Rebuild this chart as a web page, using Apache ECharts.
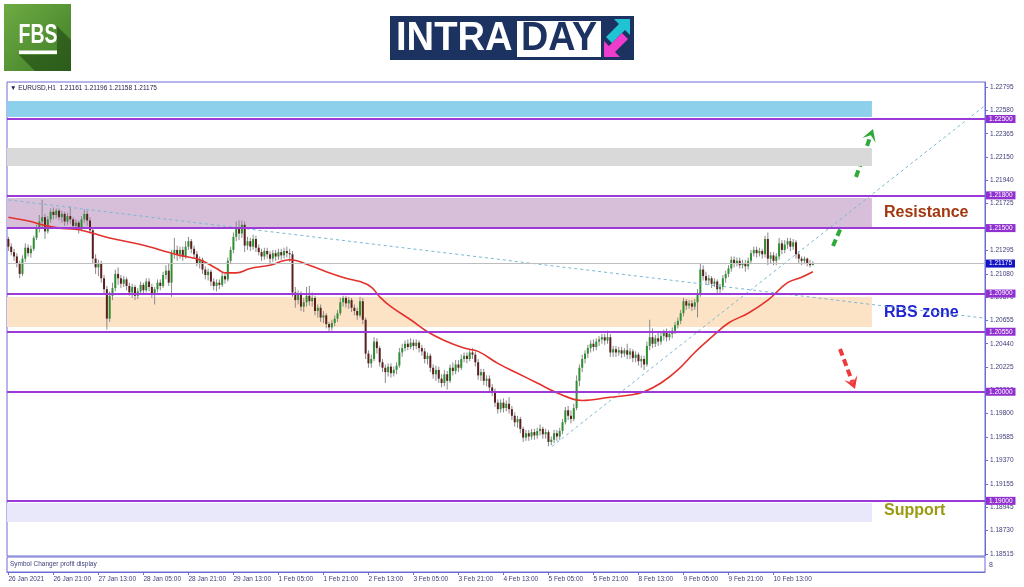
<!DOCTYPE html>
<html><head><meta charset="utf-8">
<script src="https://cdn.jsdelivr.net/npm/echarts@6/dist/echarts.min.js"></script>
<style>html,body{margin:0;padding:0;background:#fff}#c{width:1024px;height:587px}</style>
</head><body><div id="c"></div>
<script>
// ---------- data ----------
const tickLabels = ['26 Jan 2021','26 Jan 21:00','27 Jan 13:00','28 Jan 05:00','28 Jan 21:00','29 Jan 13:00','1 Feb 05:00','1 Feb 21:00','2 Feb 13:00','3 Feb 05:00','3 Feb 21:00','4 Feb 13:00','5 Feb 05:00','5 Feb 21:00','8 Feb 13:00','9 Feb 05:00','9 Feb 21:00','10 Feb 13:00'];
const tickIndex = [0,16,32,48,64,80,96,112,128,144,160,176,192,208,224,240,256,272];
const priceTicks = [1.22795,1.22580,1.22365,1.22150,1.21940,1.21725,1.21510,1.21295,1.21080,1.20870,1.20655,1.20440,1.20225,1.20010,1.19800,1.19585,1.19370,1.19155,1.18945,1.18730,1.18515];
const levels = [1.22500,1.21800,1.21500,1.20900,1.20550,1.20000,1.19000];
const lastPrice = 1.21175;
const zones = [[1.22665,1.22518],[1.22234,1.22069],[1.21776,1.21501],[1.20868,1.20594],[1.18980,1.18806]];
const zoneEnd = 307;
const trendDown = [[0,1.21758],[347.2,1.20674]];
const trendUp = [[193.3,1.19500],[347.2,1.22624]];
// [open, close, low, high]
const ohlc = [
[1.2140,1.2133,1.2129,1.2142],[1.2133,1.2128,1.2125,1.2136],[1.2128,1.2124,1.2120,1.2131],[1.2124,1.2118,1.2114,1.2127],
[1.2118,1.2108,1.2104,1.2120],[1.2108,1.2122,1.2106,1.2125],[1.2122,1.2132,1.2119,1.2136],[1.2132,1.2127,1.2124,1.2135],
[1.2127,1.2131,1.2123,1.2134],[1.2131,1.2141,1.2129,1.2143],[1.2141,1.2150,1.2139,1.2153],[1.2150,1.2156,1.2146,1.2162],
[1.2156,1.2160,1.2150,1.2176],[1.2160,1.2147,1.2140,1.2163],[1.2147,1.2158,1.2145,1.2161],[1.2158,1.2165,1.2155,1.2168],
[1.2165,1.2162,1.2158,1.2169],[1.2162,1.2166,1.2159,1.2168],[1.2166,1.2160,1.2157,1.2168],[1.2160,1.2163,1.2155,1.2166],
[1.2163,1.2156,1.2152,1.2165],[1.2156,1.2161,1.2153,1.2164],[1.2161,1.2158,1.2154,1.2170],[1.2158,1.2152,1.2149,1.2160],
[1.2152,1.2155,1.2148,1.2158],[1.2155,1.2149,1.2145,1.2157],[1.2149,1.2158,1.2147,1.2161],[1.2158,1.2163,1.2155,1.2167],
[1.2163,1.2157,1.2152,1.2166],[1.2157,1.2148,1.2145,1.2160],[1.2148,1.2122,1.2118,1.2150],[1.2122,1.2114,1.2108,1.2126],
[1.2114,1.2118,1.2106,1.2121],[1.2118,1.2104,1.2100,1.2120],[1.2104,1.2094,1.2090,1.2107],[1.2094,1.2067,1.2057,1.2097],
[1.2067,1.2088,1.2064,1.2092],[1.2088,1.2095,1.2084,1.2100],[1.2095,1.2108,1.2092,1.2112],[1.2108,1.2104,1.2098,1.2114],
[1.2104,1.2099,1.2095,1.2107],[1.2099,1.2103,1.2096,1.2106],[1.2103,1.2097,1.2093,1.2105],[1.2097,1.2091,1.2088,1.2100],
[1.2091,1.2096,1.2086,1.2099],[1.2096,1.2088,1.2084,1.2098],[1.2088,1.2092,1.2085,1.2095],[1.2092,1.2098,1.2089,1.2101],
[1.2098,1.2093,1.2089,1.2100],[1.2093,1.2101,1.2091,1.2104],[1.2101,1.2096,1.2092,1.2104],[1.2096,1.2090,1.2086,1.2099],
[1.2090,1.2094,1.2080,1.2096],[1.2094,1.2100,1.2091,1.2103],[1.2100,1.2097,1.2093,1.2103],[1.2097,1.2107,1.2095,1.2110],
[1.2107,1.2111,1.2103,1.2116],[1.2111,1.2100,1.2097,1.2118],[1.2100,1.2127,1.2087,1.2130],[1.2127,1.2130,1.2122,1.2141],
[1.2130,1.2126,1.2120,1.2134],[1.2126,1.2130,1.2122,1.2133],[1.2130,1.2124,1.2120,1.2133],[1.2124,1.2133,1.2122,1.2138],
[1.2133,1.2138,1.2130,1.2142],[1.2138,1.2131,1.2127,1.2140],[1.2131,1.2126,1.2122,1.2134],[1.2126,1.2118,1.2115,1.2129],
[1.2118,1.2121,1.2113,1.2124],[1.2121,1.2112,1.2108,1.2123],[1.2112,1.2107,1.2103,1.2115],[1.2107,1.2110,1.2102,1.2113],
[1.2110,1.2101,1.2097,1.2112],[1.2101,1.2097,1.2093,1.2104],[1.2097,1.2100,1.2092,1.2103],[1.2100,1.2098,1.2094,1.2103],
[1.2098,1.2106,1.2096,1.2109],[1.2106,1.2103,1.2099,1.2108],[1.2103,1.2120,1.2101,1.2123],[1.2120,1.2130,1.2117,1.2133],
[1.2130,1.2142,1.2127,1.2146],[1.2142,1.2150,1.2138,1.2156],[1.2150,1.2145,1.2139,1.2157],[1.2145,1.2153,1.2141,1.2157],
[1.2153,1.2134,1.2128,1.2156],[1.2134,1.2138,1.2130,1.2142],[1.2138,1.2133,1.2129,1.2141],[1.2133,1.2140,1.2130,1.2144],
[1.2140,1.2132,1.2128,1.2143],[1.2132,1.2128,1.2125,1.2135],[1.2128,1.2124,1.2120,1.2131],[1.2124,1.2129,1.2121,1.2132],
[1.2129,1.2126,1.2122,1.2132],[1.2126,1.2122,1.2118,1.2129],[1.2122,1.2127,1.2119,1.2130],[1.2127,1.2124,1.2120,1.2130],
[1.2124,1.2128,1.2121,1.2131],[1.2128,1.2125,1.2121,1.2131],[1.2125,1.2129,1.2122,1.2132],[1.2129,1.2127,1.2123,1.2133],
[1.2127,1.2126,1.2119,1.2131],[1.2126,1.2091,1.2087,1.2129],[1.2091,1.2084,1.2077,1.2096],[1.2084,1.2090,1.2080,1.2093],
[1.2090,1.2078,1.2074,1.2092],[1.2078,1.2082,1.2073,1.2086],[1.2082,1.2088,1.2078,1.2096],[1.2088,1.2083,1.2079,1.2097],
[1.2083,1.2086,1.2078,1.2091],[1.2086,1.2074,1.2070,1.2088],[1.2074,1.2077,1.2068,1.2080],[1.2077,1.2068,1.2064,1.2080],
[1.2068,1.2070,1.2063,1.2074],[1.2070,1.2062,1.2058,1.2072],[1.2062,1.2059,1.2055,1.2064],[1.2059,1.2063,1.2056,1.2066],
[1.2063,1.2067,1.2060,1.2070],[1.2067,1.2072,1.2064,1.2075],[1.2072,1.2082,1.2070,1.2086],[1.2082,1.2086,1.2078,1.2088],
[1.2086,1.2081,1.2077,1.2088],[1.2081,1.2084,1.2076,1.2087],[1.2084,1.2077,1.2073,1.2086],[1.2077,1.2074,1.2070,1.2080],
[1.2074,1.2070,1.2066,1.2077],[1.2070,1.2083,1.2068,1.2087],[1.2083,1.2066,1.2062,1.2086],[1.2066,1.2035,1.2030,1.2068],
[1.2035,1.2026,1.2022,1.2038],[1.2026,1.2030,1.2022,1.2034],[1.2030,1.2046,1.2028,1.2050],[1.2046,1.2040,1.2035,1.2049],
[1.2040,1.2027,1.2023,1.2042],[1.2027,1.2022,1.2018,1.2030],[1.2022,1.2018,1.2008,1.2025],[1.2018,1.2023,1.2014,1.2026],
[1.2023,1.2017,1.2013,1.2026],[1.2017,1.2020,1.2014,1.2023],[1.2020,1.2024,1.2016,1.2027],[1.2024,1.2036,1.2022,1.2040],
[1.2036,1.2040,1.2032,1.2044],[1.2040,1.2044,1.2037,1.2047],[1.2044,1.2041,1.2038,1.2048],[1.2041,1.2045,1.2039,1.2049],
[1.2045,1.2042,1.2038,1.2048],[1.2042,1.2045,1.2039,1.2048],[1.2045,1.2040,1.2036,1.2047],[1.2040,1.2037,1.2033,1.2043],
[1.2037,1.2030,1.2026,1.2040],[1.2030,1.2033,1.2025,1.2036],[1.2033,1.2022,1.2018,1.2035],[1.2022,1.2016,1.2012,1.2025],
[1.2016,1.2020,1.2010,1.2024],[1.2020,1.2012,1.2008,1.2023],[1.2012,1.2008,1.2004,1.2016],[1.2008,1.2016,1.2005,1.2020],
[1.2016,1.2010,1.2002,1.2019],[1.2010,1.2022,1.2008,1.2025],[1.2022,1.2019,1.2015,1.2027],[1.2019,1.2025,1.2016,1.2029],
[1.2025,1.2022,1.2018,1.2029],[1.2022,1.2030,1.2020,1.2034],[1.2030,1.2033,1.2027,1.2036],[1.2033,1.2030,1.2026,1.2036],
[1.2030,1.2036,1.2028,1.2039],[1.2036,1.2034,1.2030,1.2040],[1.2034,1.2027,1.2023,1.2037],[1.2027,1.2015,1.2011,1.2030],
[1.2015,1.2018,1.2010,1.2021],[1.2018,1.2010,1.2006,1.2021],[1.2010,1.2012,1.2005,1.2015],[1.2012,1.2004,1.2000,1.2015],
[1.2004,1.2000,1.1996,1.2007],[1.2000,1.1990,1.1986,1.2003],[1.1990,1.1984,1.1980,1.1993],[1.1984,1.1990,1.1981,1.1993],
[1.1990,1.1985,1.1981,1.1994],[1.1985,1.1989,1.1982,1.1992],[1.1989,1.1984,1.1980,1.1995],[1.1984,1.1978,1.1974,1.1987],
[1.1978,1.1972,1.1968,1.1981],[1.1972,1.1975,1.1967,1.1978],[1.1975,1.1966,1.1962,1.1977],[1.1966,1.1958,1.1954,1.1968],
[1.1958,1.1962,1.1955,1.1965],[1.1962,1.1959,1.1955,1.1965],[1.1959,1.1963,1.1956,1.1966],[1.1963,1.1960,1.1956,1.1966],
[1.1960,1.1964,1.1957,1.1967],[1.1964,1.1966,1.1960,1.1970],[1.1966,1.1961,1.1957,1.1968],[1.1961,1.1963,1.1957,1.1966],
[1.1963,1.1954,1.1950,1.1965],[1.1954,1.1956,1.1951,1.1959],[1.1956,1.1962,1.1953,1.1965],[1.1962,1.1959,1.1955,1.1965],
[1.1959,1.1964,1.1956,1.1967],[1.1964,1.1972,1.1961,1.1975],[1.1972,1.1983,1.1970,1.1986],[1.1983,1.1978,1.1974,1.1987],
[1.1978,1.1975,1.1971,1.1983],[1.1975,1.1985,1.1973,1.1989],[1.1985,1.2010,1.1983,1.2015],[1.2010,1.2022,1.2005,1.2025],
[1.2022,1.2030,1.2018,1.2034],[1.2030,1.2035,1.2026,1.2038],[1.2035,1.2040,1.2031,1.2043],[1.2040,1.2044,1.2036,1.2047],
[1.2044,1.2041,1.2037,1.2048],[1.2041,1.2046,1.2038,1.2049],[1.2046,1.2048,1.2042,1.2051],[1.2048,1.2050,1.2044,1.2053],
[1.2050,1.2047,1.2043,1.2053],[1.2047,1.2050,1.2044,1.2056],[1.2050,1.2036,1.2032,1.2053],[1.2036,1.2039,1.2032,1.2042],
[1.2039,1.2036,1.2032,1.2042],[1.2036,1.2038,1.2033,1.2041],[1.2038,1.2035,1.2031,1.2041],[1.2035,1.2038,1.2032,1.2040],
[1.2038,1.2034,1.2030,1.2044],[1.2034,1.2037,1.2030,1.2040],[1.2037,1.2031,1.2027,1.2039],[1.2031,1.2034,1.2027,1.2037],
[1.2034,1.2028,1.2024,1.2036],[1.2028,1.2030,1.2022,1.2033],[1.2030,1.2025,1.2020,1.2033],[1.2025,1.2042,1.2023,1.2046],
[1.2042,1.2050,1.2038,1.2066],[1.2050,1.2044,1.2040,1.2058],[1.2044,1.2049,1.2041,1.2052],[1.2049,1.2046,1.2042,1.2055],
[1.2046,1.2051,1.2043,1.2054],[1.2051,1.2054,1.2047,1.2057],[1.2054,1.2050,1.2046,1.2058],[1.2050,1.2053,1.2047,1.2056],
[1.2053,1.2056,1.2049,1.2059],[1.2056,1.2061,1.2053,1.2064],[1.2061,1.2065,1.2058,1.2068],[1.2065,1.2072,1.2062,1.2075],
[1.2072,1.2083,1.2069,1.2086],[1.2083,1.2079,1.2075,1.2085],[1.2079,1.2081,1.2076,1.2084],[1.2081,1.2078,1.2074,1.2084],
[1.2078,1.2082,1.2075,1.2085],[1.2082,1.2090,1.2068,1.2094],[1.2090,1.2112,1.2087,1.2118],[1.2112,1.2106,1.2102,1.2116],
[1.2106,1.2102,1.2098,1.2110],[1.2102,1.2104,1.2098,1.2107],[1.2104,1.2099,1.2095,1.2106],[1.2099,1.2101,1.2096,1.2104],
[1.2101,1.2094,1.2090,1.2103],[1.2094,1.2096,1.2090,1.2099],[1.2096,1.2104,1.2093,1.2107],[1.2104,1.2108,1.2100,1.2111],
[1.2108,1.2113,1.2105,1.2116],[1.2113,1.2121,1.2110,1.2124],[1.2121,1.2118,1.2114,1.2124],[1.2118,1.2120,1.2115,1.2123],
[1.2120,1.2116,1.2113,1.2123],[1.2116,1.2118,1.2113,1.2121],[1.2118,1.2115,1.2110,1.2121],[1.2115,1.2120,1.2112,1.2123],
[1.2120,1.2127,1.2117,1.2130],[1.2127,1.2130,1.2124,1.2133],[1.2130,1.2127,1.2123,1.2133],[1.2127,1.2129,1.2124,1.2132],
[1.2129,1.2126,1.2122,1.2131],[1.2126,1.2140,1.2123,1.2143],[1.2140,1.2122,1.2116,1.2146],[1.2122,1.2125,1.2118,1.2128],
[1.2125,1.2120,1.2116,1.2128],[1.2120,1.2124,1.2116,1.2127],[1.2124,1.2136,1.2121,1.2141],[1.2136,1.2130,1.2126,1.2139],
[1.2130,1.2135,1.2127,1.2139],[1.2135,1.2138,1.2131,1.2141],[1.2138,1.2133,1.2129,1.2141],[1.2133,1.2137,1.2130,1.2140],
[1.2137,1.2126,1.2122,1.2139],[1.2126,1.2122,1.2118,1.2129],[1.2122,1.2120,1.2116,1.2124],[1.2120,1.2122,1.2117,1.2124],
[1.2122,1.2118,1.2115,1.2123],[1.2118,1.2116,1.2114,1.2121],[1.21161,1.21175,1.21158,1.21196]
];
// moving average, [bar index, value]
const ma = [
[0,1.2160],[8,1.2156],[12,1.2153],[18,1.2150],[24,1.2149],[29,1.2146],[36,1.2141],[47,1.2135],[54,1.2130],
[61,1.2125],[68,1.2121],[74,1.2113],[77,1.2109],[81,1.2109],[86,1.2113],[93,1.2116],[100,1.2121],[107,1.2116],
[114,1.2109],[120,1.2104],[125,1.2101],[129,1.2096],[132,1.2087],[136,1.2078],[143,1.2066],[149,1.2055],[155,1.2047],
[162,1.2040],[167,1.2037],[174,1.2026],[181,1.2017],[188,1.2008],[195,1.1999],[201,1.1993],[204,1.1992],[214,1.1995],
[221,1.1997],[226,1.2000],[232,1.2008],[238,1.2020],[244,1.2036],[250,1.2050],[256,1.2063],[263,1.2072],[270,1.2084],
[277,1.2100],[282,1.2105],[286,1.2110]
];

// ---------- view config ----------
const X_MIN = -0.5, X_MAX = 347.2, Y_MIN = 1.184945, Y_MAX = 1.228391;
const FRAME = '#6c6cd4', LABEL = '#3d3d7a', LEVEL = '#9b3ad6', FONT = 'Liberation Sans';
const zoneColors = ['#8dd0ec','#d9d9d9','#d7bfd9','#fde3c6','#e8e8fa'];

const chart = echarts.init(document.getElementById('c'), null, {renderer:'canvas'});

function renderCandle(params, api){
  const x = api.value(0), o = api.value(1), c = api.value(2), l = api.value(3), h = api.value(4);
  const pO = api.coord([x,o]), pC = api.coord([x,c]), pL = api.coord([x,l]), pH = api.coord([x,h]);
  const w = 2;
  const top = Math.min(pO[1],pC[1]), bot = Math.max(pO[1],pC[1]);
  const up = c >= o;
  return {type:'group', children:[
    {type:'line', shape:{x1:pL[0],y1:pL[1],x2:pH[0],y2:pH[1]}, style:{stroke:'#8a8a8a', lineWidth:1}},
    {type:'rect', shape:{x:pO[0]-w/2, y:top, width:w, height:Math.max(bot-top,1)}, style:{fill: up ? '#2f8f33' : '#5b1f1f'}}
  ]};
}

function arrow(tail, tip, color){
  const dx = tip[0]-tail[0], dy = tip[1]-tail[1], len = Math.hypot(dx,dy);
  const ux = dx/len, uy = dy/len, nx = -uy, ny = ux;
  const L = 12, W = 7;
  const shaftEnd = [tip[0]-ux*L*0.6, tip[1]-uy*L*0.6];
  return [
    {type:'polyline', shape:{points:[tail, shaftEnd]}, style:{stroke:color, lineWidth:4, lineDash:[7,4], fill:null}},
    {type:'polygon', shape:{points:[tip,[tip[0]-ux*L+nx*W, tip[1]-uy*L+ny*W],[tip[0]-ux*L*0.55, tip[1]-uy*L*0.55],[tip[0]-ux*L-nx*W, tip[1]-uy*L-ny*W]]}, style:{fill:color}}
  ];
}

const levelLines = levels.map(v => ({
  yAxis: v,
  lineStyle:{color:LEVEL, width:2, type:'solid'},
  label:{show:true, position:'end', formatter: v.toFixed(5), color:'#fff', backgroundColor:'#9030d0', padding:[1,3,0,3], fontSize:6.5, fontFamily:FONT, distance:1}
}));
levelLines.push({
  yAxis: lastPrice,
  lineStyle:{color:'#bdbdbd', width:1, type:'solid'},
  label:{show:true, position:'end', formatter: lastPrice.toFixed(5), color:'#fff', backgroundColor:'#1414c4', padding:[1,3,0,3], fontSize:6.5, fontFamily:FONT, distance:1}
});

const option = {
  animation:false,
  backgroundColor:'#ffffff',
  grid:[
    {left:7, right:39, top:82, bottom:31, show:true, borderColor:FRAME, borderWidth:1, outerBoundsMode:'none', containLabel:false},
    {left:7, right:39, top:557, bottom:15, show:true, borderColor:FRAME, borderWidth:1, outerBoundsMode:'none', containLabel:false}
  ],
  xAxis:[
    {gridIndex:0, type:'value', min:X_MIN, max:X_MAX, show:false, splitLine:{show:false}, axisLine:{onZero:false}},
    {gridIndex:1, type:'value', min:X_MIN, max:X_MAX, position:'bottom',
     axisLine:{show:true, onZero:false, lineStyle:{color:FRAME}},
     axisTick:{show:true, customValues:tickIndex, length:3, lineStyle:{color:FRAME}},
     axisLabel:{show:true, customValues:tickIndex, formatter: v => tickLabels[tickIndex.indexOf(Math.round(v))] || '', color:LABEL, fontSize:6.5, fontFamily:FONT, align:'left', margin:4},
     splitLine:{show:false}}
  ],
  yAxis:[
    {gridIndex:0, type:'value', position:'right', min:Y_MIN, max:Y_MAX,
     axisLine:{show:true, onZero:false, lineStyle:{color:FRAME}},
     axisTick:{show:true, inside:false, customValues:priceTicks, length:3, lineStyle:{color:FRAME}},
     axisLabel:{show:true, customValues:priceTicks, formatter: v => v.toFixed(5), color:LABEL, fontSize:6.5, fontFamily:FONT, margin:5},
     splitLine:{show:false}},
    {gridIndex:1, type:'value', min:0, max:1, show:false, axisLine:{onZero:false}}
  ],
  series:[
    {type:'custom', name:'EURUSD', xAxisIndex:0, yAxisIndex:0, z:2,
     renderItem: renderCandle, encode:{x:0, y:[1,2,3,4]},
     data: ohlc.map((d,i) => [i, d[0], d[1], d[2], d[3]]),
     markArea:{silent:true, z:1, data: zones.map((z,k) => [
       {coord:[X_MIN, z[0]], itemStyle:{color:zoneColors[k], opacity:1}},
       {coord:[zoneEnd, z[1]]}
     ])}},
    {type:'line', name:'trendDown', data:trendDown, symbol:'none', z:3, silent:true,
     lineStyle:{color:'#79b9d4', width:1, type:[3,3]},
     markLine:{silent:true, precision:5, symbol:['none','none'], z:5, data: levelLines}},
    {type:'line', name:'trendUp', data:trendUp, symbol:'none', z:3, silent:true,
     lineStyle:{color:'#79b9d4', width:1, type:[3,3]}},
    {type:'line', name:'MA', data:ma, symbol:'none', smooth:0.4, z:4, silent:true,
     lineStyle:{color:'#e3312c', width:1.6}}
  ],
  graphic:[
    // FBS logo
    {type:'rect', shape:{x:4,y:4,width:67,height:67}, style:{fill:{type:'linear',x:0,y:0,x2:1,y2:1,colorStops:[{offset:0,color:'#6eab43'},{offset:1,color:'#3f7d28'}]}}},
    {type:'polygon', shape:{points:[[19,55],[57,55],[57,26],[71,40],[71,71],[35,71]]}, style:{fill:'rgba(28,66,14,0.55)'}},
    {type:'text', x:38, y:36, scaleX:0.72, style:{text:'FBS', x:0, y:0, fill:'#ffffff', font:'bold 27px Liberation Sans', textAlign:'center', align:'center', textVerticalAlign:'middle', verticalAlign:'middle'}},
    {type:'rect', shape:{x:19,y:50.5,width:38,height:3.5}, style:{fill:'#ffffff'}},
    // INTRADAY logo
    {type:'rect', shape:{x:390,y:16,width:244,height:44}, style:{fill:'#1c3260'}},
    {type:'rect', shape:{x:517,y:21,width:84,height:36}, style:{fill:'#ffffff'}},
    {type:'text', x:396, y:38.5, scaleX:0.93, style:{text:'INTRA', x:0, y:0, fill:'#ffffff', font:'bold 41px Liberation Sans', textAlign:'left', align:'left', textVerticalAlign:'middle', verticalAlign:'middle'}},
    {type:'text', x:559, y:38.5, scaleX:0.92, style:{text:'DAY', x:0, y:0, fill:'#1c3260', font:'bold 41px Liberation Sans', textAlign:'center', align:'center', textVerticalAlign:'middle', verticalAlign:'middle'}},
    {type:'polygon', shape:{points:[[614,19],[630,19],[630,35],[625,30],[612,43],[606,37],[619,24]]}, style:{fill:'#1fc3d3'}},
    {type:'polygon', shape:{points:[[620,57],[604,57],[604,41],[609,46],[622,33],[628,39],[615,52]]}, style:{fill:'#ee3ccc'}},
    // header texts
    {type:'text', style:{text:'\u25BC EURUSD,H1  1.21161 1.21196 1.21158 1.21175', x:10, y:88.5, fill:'#22224e', font:'6.5px Liberation Sans', textVerticalAlign:'middle', verticalAlign:'middle'}},
    {type:'text', style:{text:'Symbol Changer profit display', x:10, y:564, fill:LABEL, font:'6.5px Liberation Sans', textVerticalAlign:'middle', verticalAlign:'middle'}},
    {type:'text', style:{text:'8', x:989, y:565, fill:LABEL, font:'7px Liberation Sans', textVerticalAlign:'middle', verticalAlign:'middle'}},
    // zone captions
    {type:'text', style:{text:'Resistance', x:884, y:213, fill:'#a2380f', font:'bold 16px Liberation Sans', textVerticalAlign:'middle', verticalAlign:'middle'}},
    {type:'text', style:{text:'RBS zone', x:884, y:313, fill:'#1f22d2', font:'bold 16px Liberation Sans', textVerticalAlign:'middle', verticalAlign:'middle'}},
    {type:'text', style:{text:'Support', x:884, y:511, fill:'#9a9a12', font:'bold 16px Liberation Sans', textVerticalAlign:'middle', verticalAlign:'middle'}},
    // direction arrows
    ...arrow([856,177],[873,129],'#2faa3a'),
    ...arrow([833,246],[849,209],'#2faa3a'),
    ...arrow([840,349],[855,389],'#ee3a3a')
  ]
};
chart.setOption(option);
</script>
</body></html>
